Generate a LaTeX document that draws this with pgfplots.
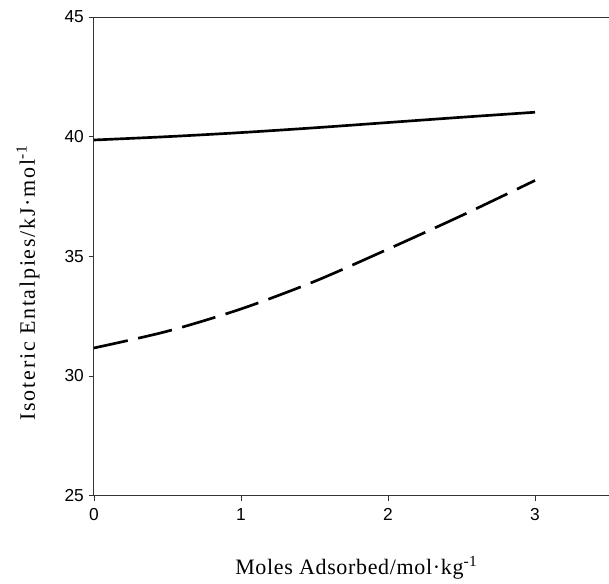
\documentclass[border=0pt]{standalone}
\usepackage{fontspec}
\setmainfont{Liberation Serif}
\newfontfamily\arial{Liberation Sans}
\newfontfamily\labfont[LetterSpace=3]{Liberation Serif}
\newfontfamily\ylabfont[LetterSpace=8]{Liberation Serif}
\usepackage{pgfplots}
\pgfplotsset{compat=1.18}

\begin{document}
\begin{tikzpicture}
  \begin{axis}[
      scale only axis,
      width=386pt, height=359pt,
      xmin=0, xmax=3.5,
      ymin=25, ymax=45,
      xtick={0,1,2,3},
      ytick={25,30,35,40,45},
      axis x line=bottom,
      axis y line=left,
      axis line style={-, line width=0.7pt, black!80},
      tick style={line width=0.6pt, black!80},
      tick align=outside,
      major tick length=4pt,
      tick label style={font=\arial\fontsize{13}{13}\selectfont},
      /pgf/number format/assume math mode=true,
      xticklabel style={yshift=-2pt},
      xlabel={\labfont Moles Adsorbed/mol·kg\textsuperscript{-1}},
      ylabel={\ylabfont Isoteric Entalpies/kJ·mol\textsuperscript{-1}},
      label style={font=\fontsize{16.5}{16.5}\selectfont},
      xlabel style={at={(axis description cs:0.51,-0.165)}, anchor=base},
      ylabel style={at={(axis description cs:-0.128,0.445)}, anchor=center, rotate=0},
      clip=false,
    ]
    % solid curve
    \addplot[black, line width=2pt, smooth] coordinates {
      (0,39.86) (0.5,40.0) (1,40.17) (1.5,40.37) (2,40.59) (2.5,40.81) (3,41.02)
    };
    % dashed curve
    \addplot[black, line width=2pt, smooth, dash pattern=on 26pt off 8pt] coordinates {
      (0,31.17) (0.5,31.87) (1,32.8) (1.5,33.95) (2,35.3) (2.5,36.7) (3,38.17)
    };
    \draw[line width=0.7pt, black!80] (rel axis cs:0,1) -- (rel axis cs:1,1);
    \path (axis description cs:-0.1825,-0.1754) rectangle (axis description cs:1,1.0355);
  \end{axis}
\end{tikzpicture}
\end{document}
